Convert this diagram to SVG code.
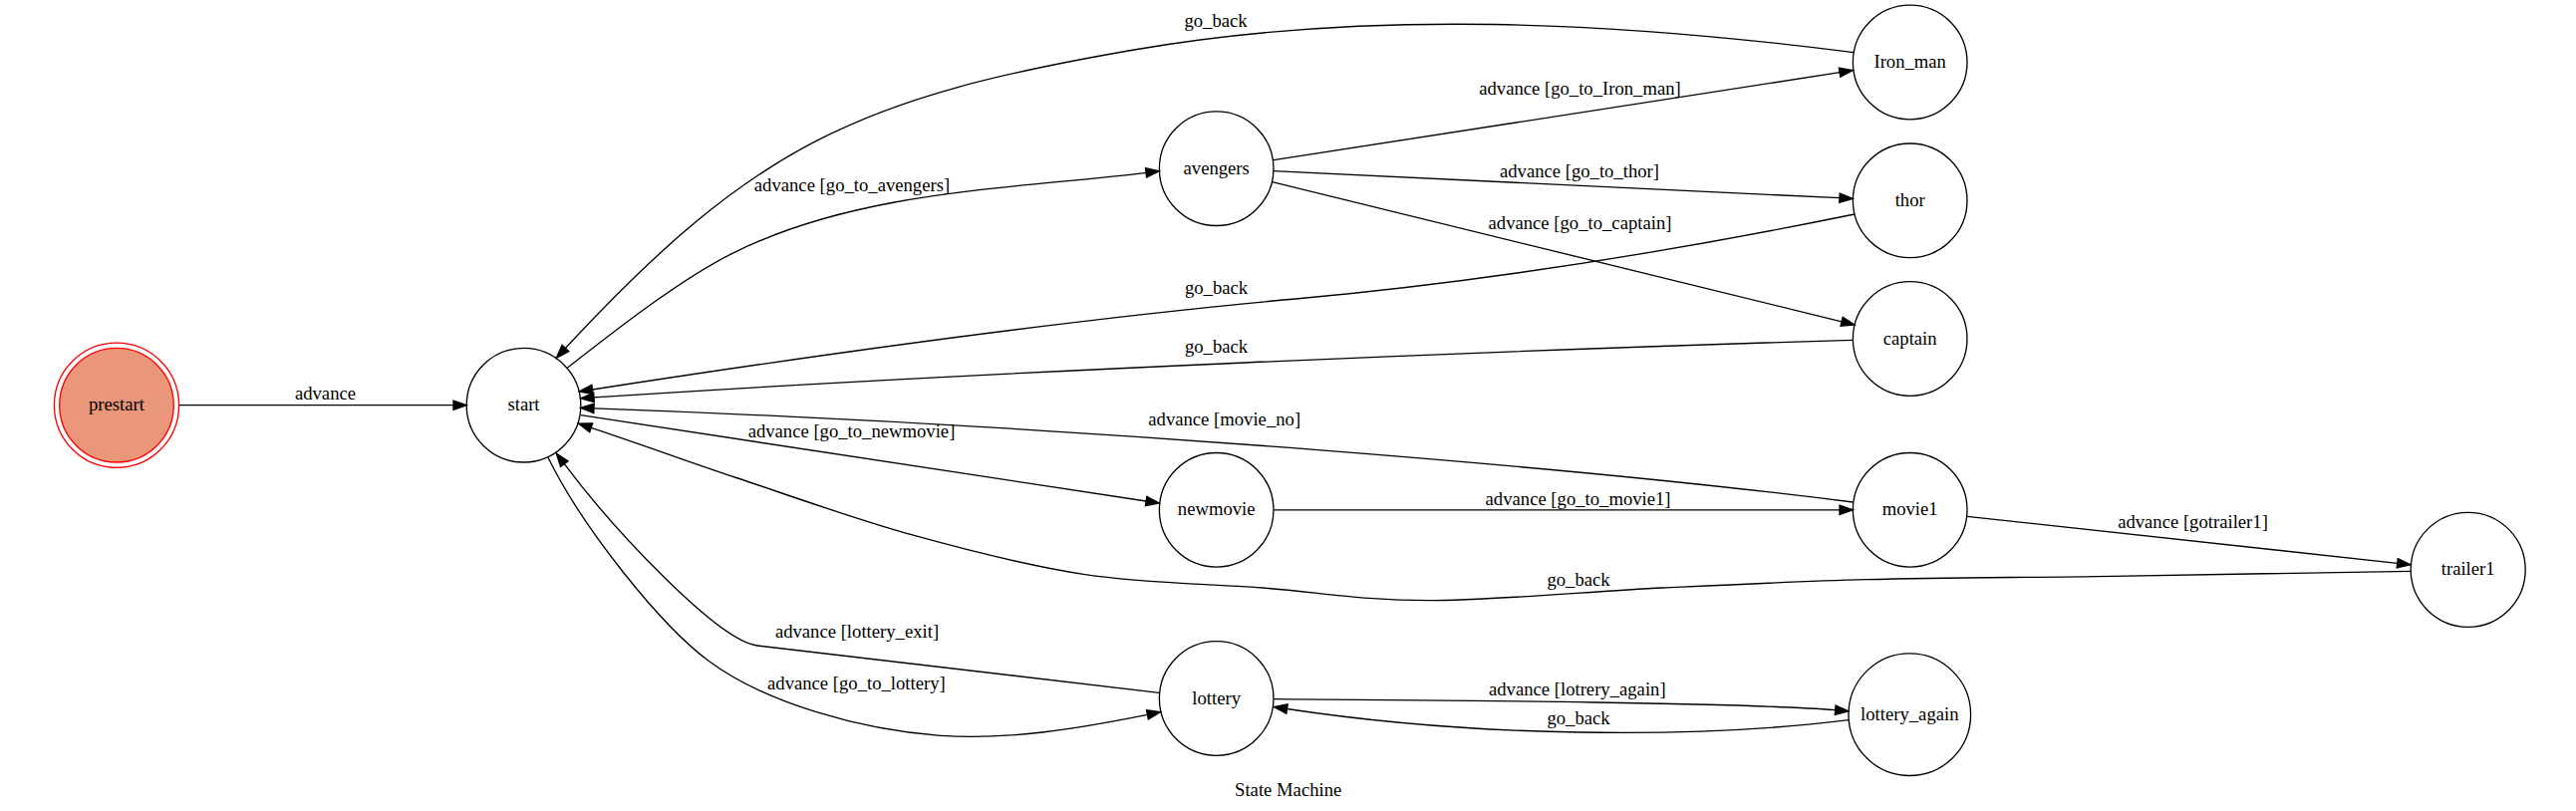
<svg xmlns="http://www.w3.org/2000/svg" width="2585" height="814" viewBox="0 0 2585 814">
<defs>
<style>
text{font-family:"Liberation Serif","Times New Roman",serif;font-size:18.67px;fill:#000;text-anchor:middle}
.n{fill:none;stroke:#000;stroke-width:1.33}
.e{fill:none;stroke:#000;stroke-width:1.33;marker-end:url(#arr)}
</style>
<marker id="arr" markerUnits="userSpaceOnUse" markerWidth="16" markerHeight="12" refX="0" refY="4.67" orient="auto" overflow="visible">
<path d="M0,0 L13.33,4.67 L0,9.33 Z" fill="#000" stroke="#000" stroke-width="1.33"/>
</marker>
</defs>
<rect x="0" y="0" width="2585" height="814" fill="#fff"/>

<g id="edges">
<g id="e-prestart-start"><path class="e" d="M179.6,406.7 L455,406.7"/><text x="326.5" y="401">advance</text></g>
<g id="e-start-avengers"><path class="e" d="M569,369.5 C616.2,332.5 683.2,279.8 737,253.3 C862.6,191.4 1011,190.1 1150,173.3"/><text x="855" y="191.7">advance [go_to_avengers]</text></g>
<g id="e-ironman-start"><path class="e" d="M1860,52.7 C1622,22 1374.4,9.2 1138,50 C862.2,97.6 757.8,144.3 567.4,349.5"/><text x="1220" y="26.7">go_back</text></g>
<g id="e-avengers-ironman"><path class="e" d="M1278,160.7 L1846.1,72.7"/><text x="1585.5" y="95">advance [go_to_Iron_man]</text></g>
<g id="e-avengers-thor"><path class="e" d="M1278,171.7 L1846,198.7"/><text x="1585" y="178.3">advance [go_to_thor]</text></g>
<g id="e-avengers-captain"><path class="e" d="M1276.7,182.7 L1848.1,322.8"/><text x="1585.5" y="230">advance [go_to_captain]</text></g>
<g id="e-thor-start"><path class="e" d="M1861,215 C1674.8,253 1489.2,282.9 1300,300 C1070.9,320.7 821.7,355.8 594.5,391"/><text x="1220.5" y="295">go_back</text></g>
<g id="e-captain-start"><path class="e" d="M1859.3,341.3 C1500,352 1000,372.5 596,398.9"/><text x="1220.5" y="354">go_back</text></g>
<g id="e-movie1-start"><path class="e" d="M1859.3,504 C1600,471 1100,428 596,409.9"/><text x="1228.7" y="426.7">advance [movie_no]</text></g>
<g id="e-start-newmovie"><path class="e" d="M582.7,416.7 L1150.1,503"/><text x="854.5" y="439.3">advance [go_to_newmovie]</text></g>
<g id="e-newmovie-movie1"><path class="e" d="M1278.3,511.8 L1846,511.8"/><text x="1583.6" y="507">advance [go_to_movie1]</text></g>
<g id="e-movie1-trailer1"><path class="e" d="M1974,518.3 L2405.7,565.3"/><text x="2200.5" y="529.7">advance [gotrailer1]</text></g>
<g id="e-trailer1-start"><path class="e" d="M2419,573.3 C2369.2,574.1 2210.8,576.9 2120,578.3 C2029.2,579.7 1949.2,579.75 1874,581.7 C1798.8,583.65 1742.5,586.5 1669,590 C1595.5,593.5 1500,602.7 1433,602.7 C1366,602.7 1324.1,594.3 1266.7,590 C1209.3,585.7 1147.5,585.6 1088.8,576.7 C1030.1,567.8 972.7,552.8 914.6,536.7 C856.5,520.6 794,497.9 740.4,480 C686.8,462.1 642.3,445.5 593.2,429.3"/><text x="1584" y="587.5">go_back</text></g>
<g id="e-lottery-start"><path class="e" d="M1163.3,695.3 L760,648 C720,643.3 614.3,529.7 566.3,465.7"/><text x="860" y="640">advance [lottery_exit]</text></g>
<g id="e-start-lottery"><path class="e" d="M550,459.3 C585.4,531 662.9,627.4 711,663.3 C767.1,705.2 863.8,732.8 943.6,738.3 C1013.4,743.1 1082.8,731 1151.4,717.3"/><text x="859.4" y="691.7">advance [go_to_lottery]</text></g>
<g id="e-lottery-lotteryagain"><path class="e" d="M1278.3,701.7 C1450,703 1750,705 1841.7,712.7"/><text x="1582.8" y="698">advance [lotrery_again]</text></g>
<g id="e-lotteryagain-lottery"><path class="e" d="M1855,722.7 C1700,742 1480,740 1291.5,711.5"/><text x="1584" y="726.7">go_back</text></g>
</g>

<g id="prestart"><circle cx="117" cy="406.7" r="62.6" fill="none" stroke="#f00" stroke-width="1.33"/><circle cx="117" cy="406.7" r="57.3" fill="#e9967a" stroke="#f00" stroke-width="1.33"/><text x="117" y="412.2">prestart</text></g>
<g id="start"><circle class="n" cx="525.5" cy="406.7" r="57.3"/><text x="525.5" y="412.2">start</text></g>
<g id="avengers"><circle class="n" cx="1220.7" cy="169.2" r="57.3"/><text x="1220.7" y="174.7">avengers</text></g>
<g id="newmovie"><circle class="n" cx="1220.7" cy="511.8" r="57.3"/><text x="1220.7" y="517.3">newmovie</text></g>
<g id="lottery"><circle class="n" cx="1220.7" cy="701" r="57.3"/><text x="1220.7" y="706.5">lottery</text></g>
<g id="Iron_man"><circle class="n" cx="1916.7" cy="62.5" r="57.3"/><text x="1916.7" y="68">Iron_man</text></g>
<g id="thor"><circle class="n" cx="1916.7" cy="201.3" r="57.3"/><text x="1916.7" y="206.8">thor</text></g>
<g id="captain"><circle class="n" cx="1916.7" cy="340" r="57.3"/><text x="1916.7" y="345.5">captain</text></g>
<g id="movie1"><circle class="n" cx="1916.7" cy="511.8" r="57.3"/><text x="1916.7" y="517.3">movie1</text></g>
<g id="lottery_again"><circle class="n" cx="1916.3" cy="717.2" r="61.3"/><text x="1916.3" y="722.7">lottery_again</text></g>
<g id="trailer1"><circle class="n" cx="2476.7" cy="571.8" r="57.5"/><text x="2476.7" y="577.3">trailer1</text></g>
<g id="title"><text x="1292.7" y="799">State Machine</text></g>
</svg>
